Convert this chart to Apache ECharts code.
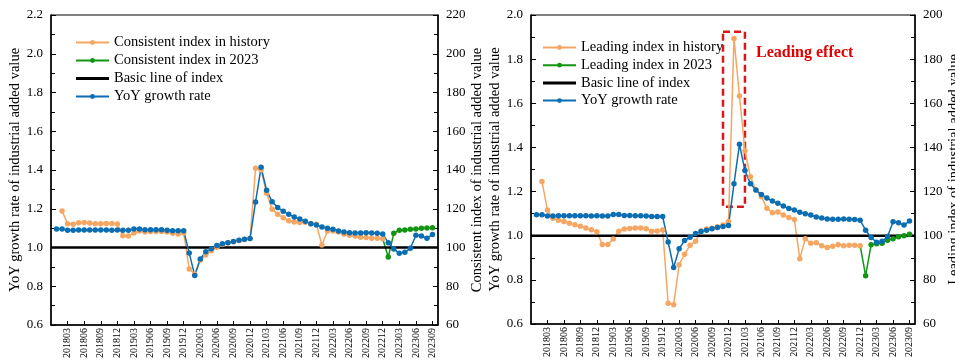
<!DOCTYPE html>
<html>
<head>
<meta charset="utf-8">
<script src="https://cdn.jsdelivr.net/npm/echarts@6/dist/echarts.min.js"></script>
<style>
html, body { margin: 0; padding: 0; background: #fff; }
#chart { width: 955px; height: 360px; }
</style>
</head>
<body>
<div id="chart"></div>
<script>
// month axis, one empty slot on each side like the original figure
const categories = [
  '201712',
  '201801', '201802', '201803', '201804', '201805', '201806', '201807', '201808', '201809', '201810', '201811', '201812',
  '201901', '201902', '201903', '201904', '201905', '201906', '201907', '201908', '201909', '201910', '201911', '201912',
  '202001', '202002', '202003', '202004', '202005', '202006', '202007', '202008', '202009', '202010', '202011', '202012',
  '202101', '202102', '202103', '202104', '202105', '202106', '202107', '202108', '202109', '202110', '202111', '202112',
  '202201', '202202', '202203', '202204', '202205', '202206', '202207', '202208', '202209', '202210', '202211', '202212',
  '202301', '202302', '202303', '202304', '202305', '202306', '202307', '202308', '202309',
  '202310'
]

// YoY growth rate, 201801 .. 202309 (left axes)
const yoyGrowth = [
  1.095, 1.095, 1.089, 1.089, 1.090, 1.090, 1.090, 1.090, 1.090, 1.090, 1.089, 1.090,
  1.089, 1.089, 1.096, 1.096, 1.092, 1.092, 1.091, 1.091, 1.089, 1.087, 1.087, 1.087,
  0.971, 0.856, 0.941, 0.978, 0.993, 1.010, 1.019, 1.025, 1.031, 1.037, 1.042, 1.046,
  1.235, 1.414, 1.295, 1.236, 1.207, 1.187, 1.171, 1.157, 1.147, 1.135, 1.123, 1.116,
  1.106, 1.099, 1.094, 1.085, 1.080, 1.076, 1.075, 1.075, 1.076, 1.075, 1.074, 1.070,
  1.025, 0.992, 0.970, 0.975, 0.996, 1.063, 1.059, 1.048, 1.067
]

// consistent index, 201802 .. 202212 (right axis of the left panel)
const consistentHistory = [
  118.8, 112.3, 112.0, 112.8, 112.9, 112.6, 112.3, 112.3, 112.4, 112.4, 112.1,
  106.1, 105.9, 107.5, 108.5, 108.0, 108.2, 108.2, 108.3, 108.0, 107.3, 107.0, 107.5,
  88.9, 86.3, 93.5, 96.1, 98.3, 100.1, 101.6, 102.5, 103.0, 103.6, 104.1, 104.6,
  140.9, 140.0, 128.0, 119.7, 117.1, 115.4, 113.8, 113.2, 112.9, 113.0, 112.3, 112.0,
  101.3, 108.5, 108.5, 108.0, 106.8, 106.3, 105.9, 105.3, 105.1, 104.8, 104.8, 104.5
]
// 202212 .. 202309
const consistent2023 = [104.5, 95.1, 107.3, 108.9, 109.0, 109.4, 109.6, 109.9, 110.1, 110.2]

// leading index, 201802 .. 202212 (right axis of the right panel)
const leadingHistory = [
  124.6, 111.6, 107.9, 107.0, 106.4, 105.6, 105.0, 104.3, 103.5, 102.7, 101.8,
  96.0, 96.0, 98.5, 102.0, 103.0, 103.3, 103.5, 103.5, 103.1, 102.0, 102.1, 102.6,
  69.4, 68.7, 86.9, 91.6, 95.7, 97.5, 102.3, 103.0, 103.4, 104.1, 104.9, 106.4,
  189.4, 163.3, 138.5, 126.7, 120.7, 117.7, 112.4, 110.4, 110.7, 109.4, 108.3, 107.4,
  89.6, 98.6, 96.6, 96.8, 95.5, 94.7, 95.2, 95.9, 95.5, 95.7, 95.7, 95.5
]
// 202212 .. 202309
const leading2023 = [95.5, 81.9, 95.9, 96.4, 96.6, 98.0, 98.6, 99.5, 100.0, 100.7]

const basicLevel = 1.0
// dashed "leading effect" box (months, right-axis values)
const effectBox = [['202011', 192.4], ['202103', 113.1]]

const font = 'Liberation Serif'
const orange = '#f5a662'
const green = '#129512'
const blue = '#0b6db2'

// spread a run of values over the month axis
function onMonths (values, firstMonth, hideFirst) {
  const out = categories.map(() => null)
  const start = categories.indexOf(firstMonth)
  values.forEach((v, k) => { out[start + k] = v })
  if (hideFirst) out[start] = { value: out[start], symbol: 'none' }
  return out
}

const quarterLabel = (idx, val) => idx > 0 && ['03', '06', '09', '12'].indexOf(val.slice(4)) > -1

function xAxis (gridIndex) {
  return {
    type: 'category',
    gridIndex: gridIndex,
    data: categories,
    boundaryGap: false,
    axisLine: { lineStyle: { color: '#000', width: 1.5 } },
    axisTick: { inside: true, length: 4, interval: quarterLabel, lineStyle: { color: '#000' } },
    axisLabel: { rotate: 90, interval: quarterLabel, margin: 3, color: '#000', fontSize: 10, fontFamily: font },
    splitLine: { show: false }
  }
}

function yAxis (gridIndex, position, min, max, interval, name, nameGap, decimals) {
  return {
    type: 'value',
    gridIndex: gridIndex,
    position: position,
    min: min,
    max: max,
    interval: interval,
    name: name,
    nameLocation: 'middle',
    nameGap: nameGap,
    nameTextStyle: { color: '#000', fontSize: 14.5, fontFamily: font },
    axisLine: { show: true, lineStyle: { color: '#000', width: 1.5 } },
    axisTick: { show: true, inside: true, length: 5, lineStyle: { color: '#000' } },
    minorTick: { show: true, splitNumber: 2, length: 4, lineStyle: { color: '#000' } },
    splitLine: { show: false },
    axisLabel: {
      margin: 8,
      color: '#000',
      fontSize: 13,
      fontFamily: font,
      formatter: v => v.toFixed(decimals)
    }
  }
}

function lineSeries (name, color, xi, yi, data, extra) {
  return Object.assign({
    name: name,
    type: 'line',
    xAxisIndex: xi,
    yAxisIndex: yi,
    data: data,
    symbol: 'circle',
    symbolSize: 5.5,
    showAllSymbol: true,
    color: color,
    itemStyle: { color: color },
    lineStyle: { color: color, width: 1.5 },
    silent: true
  }, extra || {})
}

function basicSeries (xi, yi) {
  return {
    name: 'Basic line of index',
    type: 'line',
    xAxisIndex: xi,
    yAxisIndex: yi,
    data: categories.map(() => basicLevel),
    symbol: 'none',
    color: '#000',
    lineStyle: { color: '#000', width: 2.5 },
    silent: true
  }
}

function legend (left, top, gap, names) {
  return {
    orient: 'vertical',
    left: left,
    top: top,
    padding: 0,
    itemWidth: 33,
    itemHeight: 6,
    itemGap: gap,
    textStyle: { color: '#000', fontSize: 14.5, fontFamily: font },
    data: names.map(n => n === 'Basic line of index'
      ? { name: n, icon: 'path://M0,0H33V3H0Z', itemStyle: { color: '#000' } }
      : { name: n })
  }
}

const chart = echarts.init(document.getElementById('chart'))

chart.setOption({
  animation: false,
  backgroundColor: '#fff',
  grid: [
    { left: 51, top: 15, width: 387, height: 310, show: true, borderColor: '#000', borderWidth: 1, outerBoundsMode: 'none' },
    { left: 531, top: 15, width: 384, height: 309, show: true, borderColor: '#000', borderWidth: 1, outerBoundsMode: 'none' }
  ],
  legend: [
    legend(75, 35, 3, ['Consistent index in history', 'Consistent index in 2023', 'Basic line of index', 'YoY growth rate']),
    legend(542, 40, 2.7, ['Leading index in history', 'Leading index in 2023', 'Basic line of index', 'YoY growth rate'])
  ],
  xAxis: [xAxis(0), xAxis(1)],
  yAxis: [
    yAxis(0, 'left', 0.6, 2.2, 0.2, 'YoY growth rate of industrial added value', 27, 1),
    yAxis(0, 'right', 60, 220, 20, 'Consistent index of industrial added value', 31, 0),
    yAxis(1, 'left', 0.6, 2.0, 0.2, 'YoY growth rate of industrial added value', 26, 1),
    yAxis(1, 'right', 60, 200, 20, 'Leading index of industrial added value', 30, 0)
  ],
  graphic: [{
    type: 'text',
    left: 756,
    top: 45,
    style: { text: 'Leading effect', fontSize: 16, fontWeight: 'bold', fontFamily: font, fill: '#e00000' }
  }],
  series: [
    lineSeries('Consistent index in history', orange, 0, 1, onMonths(consistentHistory, '201802')),
    lineSeries('Consistent index in 2023', green, 0, 1, onMonths(consistent2023, '202212', true)),
    basicSeries(0, 0),
    lineSeries('YoY growth rate', blue, 0, 0, onMonths(yoyGrowth, '201801')),

    lineSeries('Leading index in history', orange, 1, 3, onMonths(leadingHistory, '201802'), {
      markArea: {
        silent: true,
        itemStyle: { color: 'rgba(0,0,0,0)', borderColor: '#d7191c', borderWidth: 2.5, borderType: [7, 4] },
        data: [[{ xAxis: effectBox[0][0], yAxis: effectBox[0][1] }, { xAxis: effectBox[1][0], yAxis: effectBox[1][1] }]]
      }
    }),
    lineSeries('Leading index in 2023', green, 1, 3, onMonths(leading2023, '202212', true)),
    basicSeries(1, 2),
    lineSeries('YoY growth rate', blue, 1, 2, onMonths(yoyGrowth, '201801'))
  ]
})
</script>
</body>
</html>
